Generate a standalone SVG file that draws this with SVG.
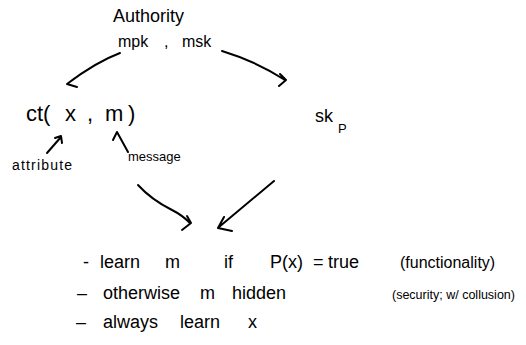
<svg xmlns="http://www.w3.org/2000/svg" width="526" height="345" viewBox="0 0 526 345">
<style>
text { font-family: "Liberation Sans", Arial, sans-serif; fill: #000; }
.big { font-size: 22px; }
.mid { font-size: 18px; }
.small { font-size: 13px; }
.c { fill: none; stroke: #000; stroke-width: 2; stroke-linecap: round; stroke-linejoin: round; }
</style>
<rect width="526" height="345" fill="#fff"/>
<g id="authority">
<text class="mid" x="113" y="22">Authority</text>
<text style="font-size:16px" y="47"><tspan x="118">mpk</tspan><tspan x="164">,</tspan><tspan x="182">msk</tspan></text>
</g>
<g id="ciphertext">
<text class="big" y="121"><tspan x="26">ct(</tspan><tspan x="65">x</tspan><tspan x="87">,</tspan><tspan x="105">m</tspan><tspan x="128">)</tspan></text>
</g>
<g id="secret-key">
<text class="mid" x="315" y="122">sk<tspan x="338" y="133" style="font-size:13px">P</tspan></text>
</g>
<g id="attribute-label">
<text style="font-size:14px" x="12" y="170" textLength="60">attribute</text>
</g>
<g id="message-label">
<text class="small" x="128" y="161">message</text>
</g>
<g id="result">
<text class="mid" y="268"><tspan x="83">-</tspan><tspan x="100">learn</tspan><tspan x="165">m</tspan><tspan x="224">if</tspan><tspan x="270">P(x)</tspan><tspan x="313">=</tspan><tspan x="328">true</tspan><tspan x="400" style="font-size:16px">(functionality)</tspan></text>
<text class="mid" y="299"><tspan x="77">–</tspan><tspan x="103">otherwise</tspan><tspan x="200">m</tspan><tspan x="232">hidden</tspan><tspan x="392" style="font-size:12.5px">(security; w/ collusion)</tspan></text>
<text class="mid" y="328"><tspan x="76">–</tspan><tspan x="103">always</tspan><tspan x="180">learn</tspan><tspan x="248">x</tspan></text>
</g>
<g id="connectors">
<path class="c" d="M120,53 C104,59 88,68 67,84 M75,78 L67,84 L77,87"/>
<path class="c" d="M222,51 C245,58 265,67 285,80 M280,74 L286,80 L279,86"/>
<path class="c" d="M47,153 L61,137 M55,138 L61,136 L62,143"/>
<path class="c" d="M113,140 L117,132 L128,152"/>
<path class="c" d="M138,185 C148,196 160,204 172,210 C180,214 186,219 190,223 M187,216 L191,223 L182,230"/>
<path class="c" d="M274,181 L219,227 M224,217 L218,228 L232,231"/>
</g>
</svg>
